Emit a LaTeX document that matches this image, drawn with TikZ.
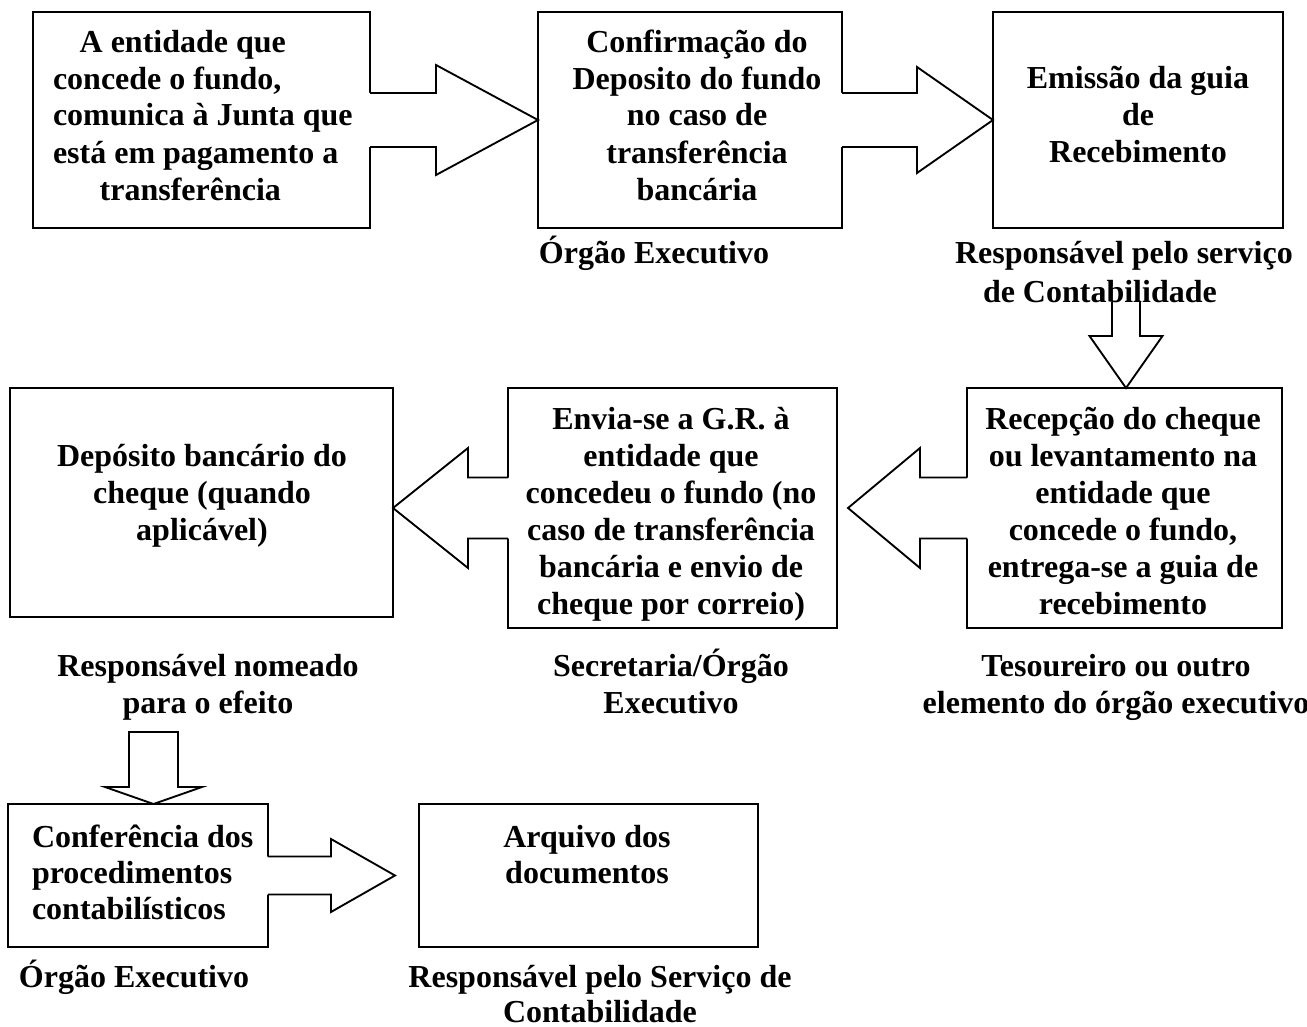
\documentclass[tikz,border=0pt]{standalone}
\usepackage{fontspec}
\setmainfont{Liberation Serif}
\usetikzlibrary{calc}
\newcommand\fs{\rule{0pt}{24pt}}
\tikzset{
  box/.style={draw, line width=1.4pt, rectangle, inner sep=0pt, outer sep=0pt},
  txt/.style={inner sep=0pt, outer sep=0pt, font=\fontsize{24pt}{27.75pt}\selectfont\bfseries,
    align=center, anchor=north, yshift=24pt},
  txtl/.style={txt, align=left, anchor=north west},
  blk/.style={line width=1.4pt, line join=miter},
}
\newcommand\boxat[5]{%
  \node[box, minimum width={(#4-#2)*0.75pt}, minimum height={(#5-#3)*0.75pt}] (#1) at ({(#2+#4)/2},{(#3+#5)/2}) {};}
% #1 tail, #2 tip, #3 shaft half, #4 head base offset, #5 head half
\newcommand\harr[5]{%
  \fill[white] ($(#1)+({-0.05*#4},-#3)$) -- ($(#1)+(#4,-#3)$) -- ($(#1)+(#4,-#5)$) -- (#2)
     -- ($(#1)+(#4,#5)$) -- ($(#1)+(#4,#3)$) -- ($(#1)+({-0.05*#4},#3)$) -- cycle;
  \draw[blk] ($(#1)+(0,-#3)$) -- ($(#1)+(#4,-#3)$) -- ($(#1)+(#4,-#5)$) -- (#2)
     -- ($(#1)+(#4,#5)$) -- ($(#1)+(#4,#3)$) -- ($(#1)+(0,#3)$);}
\begin{document}
\begin{tikzpicture}[x=0.75pt, y=-0.75pt]
\useasboundingbox (0,0) rectangle (1307,1027);
% boxes
\boxat{b1}{33}{12}{370}{228}
\boxat{b2}{538}{12}{842}{228}
\boxat{b3}{993}{12}{1283}{228}
\boxat{b4}{10}{388}{393}{617}
\boxat{b5}{508}{388}{837}{628}
\boxat{b6}{967}{388}{1282}{628}
\boxat{b7}{8}{804}{268}{947}
\boxat{b8}{419}{804}{758}{947}
% block arrows
\harr{b1.east}{b2.west}{27}{66}{55}
\harr{b2.east}{b3.west}{27}{75}{53}
\coordinate (a5tip) at ($(b5.east)+(11,0)$);
\harr{b6.west}{a5tip}{30.5}{-47}{60}
\coordinate (a6tip) at (b4.east |- b5.west);
\harr{b5.west}{a6tip}{30.5}{-40}{60}
\coordinate (a7tip) at ($(b8.west)+(-24,0)$);
\harr{b7.east}{a7tip}{19}{63}{36.5}
% vertical arrows
\coordinate (a3top) at (1126,302);
\draw[blk] ($(a3top)+(-14,0)$) -- ($(a3top)+(-14,34)$) -- ($(a3top)+(-36.5,34)$) -- (a3top |- b6.north)
  -- ($(a3top)+(36.5,34)$) -- ($(a3top)+(14,34)$) -- ($(a3top)+(14,0)$);
\coordinate (a4top) at (153.5,732);
\draw[blk] ($(a4top)+(-24.5,0)$) -- ($(a4top)+(-24.5,55)$) -- ($(a4top)+(-48.5,55)$) -- (a4top |- b7.north)
  -- ($(a4top)+(48.5,55)$) -- ($(a4top)+(24.5,55)$) -- ($(a4top)+(24.5,0)$) -- cycle;
% box texts
\node[txtl] (t1) at (53,52) {\fs\hspace*{20pt}A entidade que\\concede o fundo,\\comunica à Junta que\\está em pagamento a\\\hspace*{35pt}transferência};
\node[txt] (t2) at (697,52) {\fs Confirmação do\\Deposito do fundo\\no caso de\\transferência\\bancária};
\node[txt] (t3) at (1138,89) {\fs Emissão da guia\\de\\Recebimento};
\node[txt] (t4) at (202,466) {\fs Depósito bancário do\\cheque (quando\\aplicável)};
\node[txt] (t5) at (671,429) {\fs Envia-se a G.R. à\\entidade que\\concedeu o fundo (no\\caso de transferência\\bancária e envio de\\cheque por correio)};
\node[txt] (t6) at (1123,429) {\fs Recepção do cheque\\ou levantamento na\\entidade que\\concede o fundo,\\entrega-se a guia de\\recebimento};
\node[txtl, font=\fontsize{24pt}{27pt}\selectfont\bfseries] (t7) at (32,847) {\fs Conferência dos\\procedimentos\\contabilísticos};
\node[txt, font=\fontsize{24pt}{27pt}\selectfont\bfseries] (t8) at (587,847) {\fs Arquivo dos\\documentos};
% labels
\node[txt] (l1) at (654,263) {\fs Órgão Executivo};
\node[txtl, font=\fontsize{24pt}{29.25pt}\selectfont\bfseries] (l2) at (955,263) {\fs Responsável pelo serviço\\\hspace*{21pt}de Contabilidade};
\node[txt] (l4) at (208,676) {\fs Responsável nomeado\\para o efeito};
\node[txt] (l5) at (671,676) {\fs Secretaria/Órgão\\Executivo};
\node[txt] (l6) at (1116,676) {\fs Tesoureiro ou outro\\elemento do órgão executivo};
\node[txt] (l7) at (134,987) {\fs Órgão Executivo};
\node[txt, font=\fontsize{24pt}{26.25pt}\selectfont\bfseries] (l8) at (600,987) {\fs Responsável pelo Serviço de\\Contabilidade};
\end{tikzpicture}
\end{document}
